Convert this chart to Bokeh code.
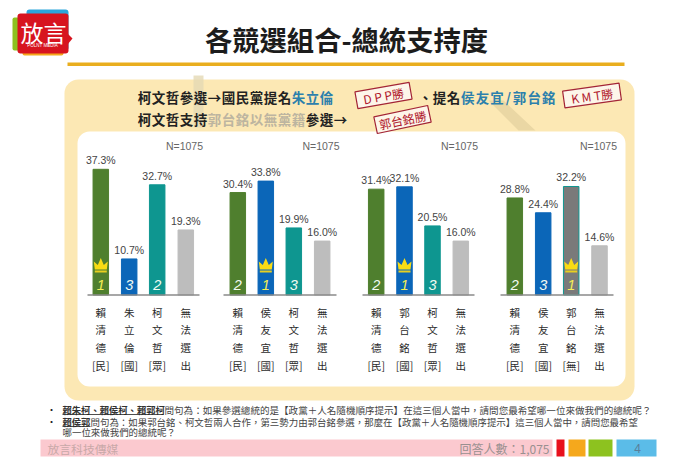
import math
from bokeh.plotting import figure
from bokeh.models import Range1d
from bokeh.core.properties import value
from bokeh.embed import file_html
from bokeh.resources import INLINE

TITLE = "各競選組合-總統支持度"
PANEL_N = "N=1075"
panel1_names = ["賴清德[民]", "朱立倫[國]", "柯文哲[眾]", "無法選出"]
panel2_names = ["賴清德[民]", "侯友宜[國]", "柯文哲[眾]", "無法選出"]
panel3_names = ["賴清德[民]", "郭台銘[國]", "柯文哲[眾]", "無法選出"]
panel4_names = ["賴清德[民]", "侯友宜[國]", "郭台銘[無]", "無法選出"]
panel1_values = [37.3, 10.7, 32.7, 19.3]
panel2_values = [30.4, 33.8, 19.9, 16.0]
panel3_values = [31.4, 32.1, 20.5, 16.0]
panel4_values = [28.8, 24.4, 32.2, 14.6]
panel1_ranks = ["1", "3", "2", ""]
panel2_ranks = ["2", "1", "3", ""]
panel3_ranks = ["2", "1", "3", ""]
panel4_ranks = ["2", "3", "1", ""]

# layout
names = [panel1_names, panel2_names, panel3_names, panel4_names]
vals = [panel1_values, panel2_values, panel3_values, panel4_values]
ranks = [panel1_ranks, panel2_ranks, panel3_ranks, panel4_ranks]
centers = [[100.3, 128.7, 156.7, 185.3], [237.3, 265.3, 293.3, 321.7],
           [375.7, 404, 432, 460.3], [514.3, 542.7, 570.7, 599]]
axis_x = [(87, 199), (223, 336), (362, 474), (500, 613)]
n_x = [184, 320.5, 459, 598]
BASE = 294.5
PX = 3.37
CJK = "Noto Sans CJK TC"
LATIN = "Liberation Sans"
GREEN, BLUE, TEAL, GREY = "#4f7f2e", "#0b66b8", "#0e9690", "#bdbdbd"
fills = [[GREEN, BLUE, TEAL, GREY], [GREEN, BLUE, TEAL, GREY],
         [GREEN, BLUE, TEAL, GREY], [GREEN, BLUE, "#7a7a7a", GREY]]
lines = [[GREEN, BLUE, TEAL, GREY], [GREEN, BLUE, TEAL, GREY],
         [GREEN, BLUE, TEAL, GREY], [GREEN, BLUE, TEAL, GREY]]

p = figure(width=696, height=462, output_backend="svg", toolbar_location=None,
           x_range=Range1d(0, 696), y_range=Range1d(462, 0), min_border=0,
           background_fill_color="white", border_fill_color="white")
p.axis.visible = False
p.grid.visible = False
p.outline_line_color = None
p.extra_y_ranges["pct"] = Range1d((BASE - 462) / PX, BASE / PX)


def txt(x, y, s, size, color="#222222", font=CJK, style="normal", align="left", base="middle", angle=0, rng="default"):
    p.text([x], [y], text=[s], text_font=value(font), text_font_size=f"{size}px", text_font_style=style,
           text_color=color, text_align=align, text_baseline=base, angle=angle, angle_units="deg", y_range_name=rng)


def spaced(x, y, s, pitch, size, color, style="bold"):
    for i, ch in enumerate(s):
        txt(x + i * pitch + pitch / 2, y, ch, size, color, style=style, align="center")
    return x + len(s) * pitch


def rrect(l, r, t, b, rad, color):
    p.quad(left=[l], right=[r], top=[t], bottom=[b], fill_color=color, line_color=None, border_radius=rad)


# logo
rrect(26, 68, 9, 50, 3, "#2ba6dc")
rrect(12, 30, 17, 50, 2, "#8dc21f")
rrect(22, 63, 44, 55, 2, "#f5a81c")
rrect(17, 68, 13, 53, 3, "#d7141f")
p.patch([67, 72, 67], [33, 38, 44], fill_color="#d7141f", line_color=None)
txt(43, 31, "放言", 23, "white", style="normal", align="center")
txt(42, 45, "POLNT MEDIA", 4.5, "white", font=LATIN, align="center")

# title and rule
txt(346, 38, TITLE, 27.3, "#1c1c1c", style="bold", align="center")
p.quad(left=[67], right=[624], top=[62], bottom=[65.5], fill_color="#e9ae1e", line_color=None)

# cards
rrect(64, 634, 79, 400, 14, "#fce8b4")
p.quad(left=[193], right=[203], top=[75], bottom=[127], fill_color="#e4d8b4", fill_alpha=0.8, line_color=None)
p.patch([488, 503, 535, 518], [100, 100, 130, 130], fill_color="#ead7a4", line_color=None)
rrect(77, 625, 131, 386, 12, "#ffffff")

# headline
x = spaced(137, 96, "柯文哲參選→國民黨提名", 14, 13.5, "#222222")
spaced(x, 96, "朱立倫", 14, 13.5, "#2c80ac")
x = spaced(418, 96, "、提名", 14, 13.5, "#222222")
x = spaced(x, 96, "侯友宜", 14.6, 13.5, "#2c80ac")
x = spaced(x, 96, "/", 8, 13.5, "#2c80ac")
spaced(x, 96, "郭台銘", 14.6, 13.5, "#2c80ac")
x = spaced(137, 118, "柯文哲支持", 14, 13.5, "#222222")
x = spaced(x, 118, "郭台銘以無黨籍", 14, 13.5, "#bdb5a0")
spaced(x, 118, "參選→", 14, 13.5, "#222222")

# stamps
for cx, cy, w, h, ang, s in [(383, 95, 55, 17, 10, "D P P勝"), (591.5, 95, 57, 17, 8, "K M T勝"), (402, 119, 55, 17, 12, "郭台銘勝")]:
    a = math.radians(ang)
    xs, ys = [], []
    for dx, dy in [(-w / 2, -h / 2), (w / 2, -h / 2), (w / 2, h / 2), (-w / 2, h / 2)]:
        xs.append(cx + dx * math.cos(a) + dy * math.sin(a))
        ys.append(cy - dx * math.sin(a) + dy * math.cos(a))
    p.patch(xs, ys, fill_color="#fdf6ea", line_color="#a32536", line_width=1.2)
    txt(cx, cy, s, 12, "#b0182c", style="normal", align="center", angle=ang)

# panels
for i in range(4):
    cx = centers[i]
    p.vbar(x=cx, top=vals[i], bottom=0, width=15.5, fill_color=fills[i], line_color=lines[i], y_range_name="pct")
    p.segment([axis_x[i][0]], [BASE], [axis_x[i][1]], [BASE], line_color="#8a8a8a", line_width=1.5)
    txt(n_x[i], 145, PANEL_N, 10.5, "#666666", font=LATIN, align="center")
    for j in range(4):
        p.text([cx[j]], [vals[i][j]], text=[f"{vals[i][j]:.1f}%"], text_font=value(LATIN), text_font_size="10.5px",
               text_color="#444444", text_align="center", text_baseline="bottom", y_offset=-3, y_range_name="pct")
        nm = names[i][j]
        rows = [nm[0], nm[1], nm[2], nm[3:]]
        for k, ch in enumerate(rows):
            txt(cx[j], 311.5 + k * 17.7, ch, 10.5, "#2b2b2b", align="center")
        r = ranks[i][j]
        if r:
            txt(cx[j], 284, r, 14.5, "#f4ee55" if r == "1" else "#f2fbf2", font=LATIN, style="italic", align="center")
        if r == "1":
            c = cx[j]
            p.patch([c - 6, c - 7, c - 3, c, c + 3, c + 7, c + 6],
                    [269, 261, 264.5, 257.5, 264.5, 261, 269], fill_color="#f8dc14", line_color=None)
            p.quad(left=[c - 6], right=[c + 6], top=[270], bottom=[272], fill_color="#e8cf20", line_color=None)

# notes
NOTE_A = "賴朱柯、賴侯柯、賴郭柯"
NOTE_B = "問句為：如果參選總統的是【政黨＋人名隨機順序提示】在這三個人當中，請問您最希望哪一位來做我們的總統呢？"
NOTE_C = "賴侯郭"
NOTE_D = "問句為：如果郭台銘、柯文哲兩人合作，第三勢力由郭台銘參選，那麼在【政黨＋人名隨機順序提示】這三個人當中，請問您最希望"
NOTE_E = "哪一位來做我們的總統呢？"
txt(51, 409, "•", 10, "#222222", align="center")
txt(51, 421, "•", 10, "#222222", align="center")
txt(62, 409, NOTE_A, 9.3, "#333333", style="bold")
p.segment([62], [414], [163], [414], line_color="#222222", line_width=0.8)
txt(164, 409, NOTE_B, 9.55, "#444444")
txt(62, 421, NOTE_C, 9.3, "#333333", style="bold")
p.segment([62], [426], [90], [426], line_color="#222222", line_width=0.8)
txt(90, 421, NOTE_D, 9.45, "#444444")
txt(62, 431.5, NOTE_E, 9.45, "#444444")

# footer
p.quad(left=[40], right=[552], top=[439], bottom=[456], fill_color="#fbc9cf", line_color=None)
p.quad(left=[556, 568, 588, 616], right=[564, 585, 612, 656], top=439, bottom=456,
       fill_color=["#e8101c", "#f5a81c", "#8dc21f", "#5bbce8"], line_color=None)
txt(47, 447.5, "放言科技傳媒", 11.8, "#c8a8a8")
txt(549, 447.5, "回答人數：1,075", 12, "#999090", align="right")
txt(637, 447.5, "4", 12, "#5a7f9a", font=LATIN, align="center")

open("out.html", "w").write(file_html(p, INLINE))
